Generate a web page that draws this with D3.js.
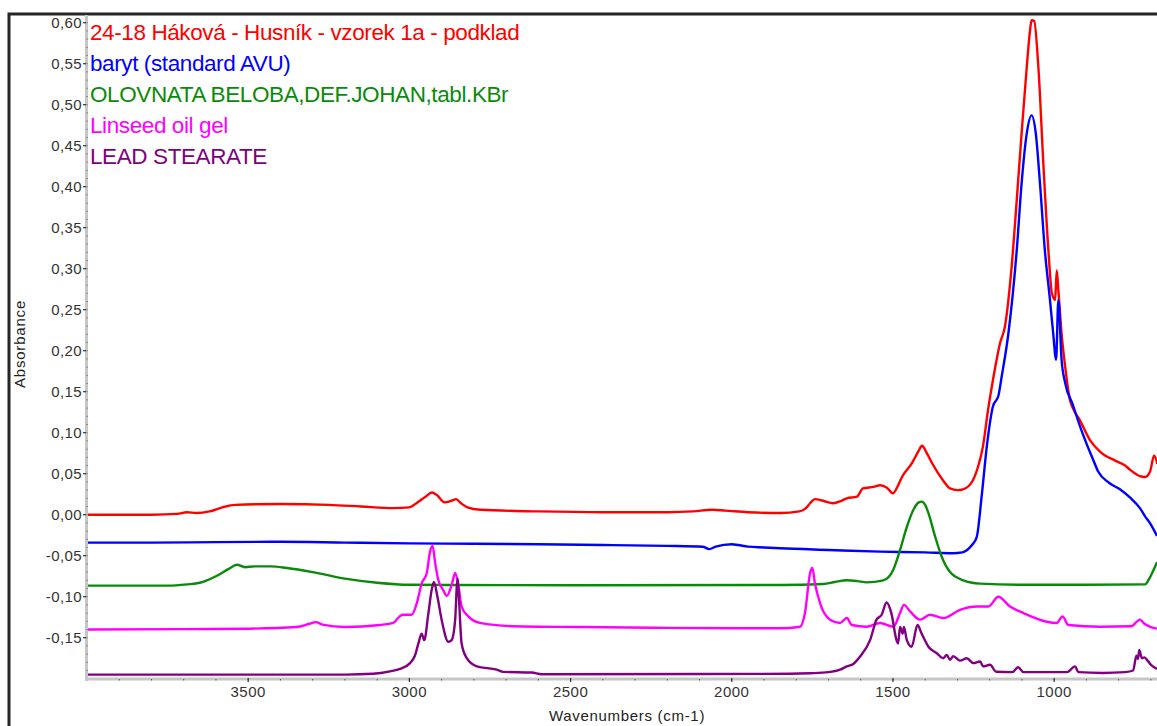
<!DOCTYPE html>
<html>
<head>
<meta charset="utf-8">
<script src="https://cdn.jsdelivr.net/npm/d3@7"></script>
<style>
  html, body { margin: 0; padding: 0; background: #fff; overflow: hidden; }
  svg { display: block; font-family: "Liberation Sans", Arial, sans-serif; }
</style>
</head>
<body>
<div id="chart"></div>
<script>
/* legend labels, in drawing order */
var seriesNames = [
  '24-18 Háková - Husník - vzorek 1a - podklad',
  'baryt (standard AVU)',
  'OLOVNATA BELOBA,DEF.JOHAN,tabl.KBr',
  'Linseed oil gel',
  'LEAD STEARATE'
];

/* spectra: [wavenumber cm-1, absorbance] */
var sampleSpectrum = [
  [4000,0.000],[3800,0.000],[3720,0.001],[3690,0.003],[3660,0.002],[3620,0.004],[3580,0.009],
  [3540,0.012],[3400,0.013],[3250,0.012],[3150,0.010],[3050,0.008],[3000,0.009],[2975,0.015],
  [2950,0.022],[2930,0.027],[2915,0.024],[2890,0.015],[2870,0.017],[2855,0.019],[2840,0.014],
  [2820,0.009],[2780,0.006],[2600,0.004],[2400,0.003],[2200,0.003],[2120,0.004],[2060,0.006],
  [2020,0.005],[1950,0.003],[1850,0.002],[1790,0.004],[1770,0.008],[1757,0.014],[1742,0.019],
  [1717,0.017],[1686,0.014],[1660,0.017],[1643,0.020],[1612,0.022],[1593,0.032],[1560,0.034],
  [1540,0.036],[1519,0.033],[1500,0.026],[1485,0.035],[1472,0.046],[1441,0.063],[1420,0.078],
  [1410,0.084],[1395,0.075],[1379,0.063],[1345,0.042],[1323,0.032],[1300,0.030],[1283,0.031],
  [1265,0.035],[1252,0.042],[1235,0.060],[1221,0.083],[1205,0.128],[1190,0.164],[1178,0.190],
  [1168,0.209],[1153,0.229],[1132,0.302],[1116,0.384],[1101,0.465],[1085,0.546],[1075,0.590],
  [1070,0.603],[1062,0.602],[1049,0.546],[1033,0.424],[1018,0.323],[1007,0.270],[997,0.262],
  [992,0.298],[987,0.274],[977,0.221],[966,0.181],[951,0.140],[942,0.130],[920,0.115],
  [889,0.091],[858,0.077],[811,0.066],[780,0.060],[765,0.055],[734,0.047],[718,0.046],
  [703,0.052],[690,0.072],[680,0.062]
];

var barytSpectrum = [
  [4000,-0.034],[3800,-0.034],[3600,-0.0335],[3400,-0.033],[3200,-0.034],[3000,-0.035],
  [2800,-0.0355],[2600,-0.036],[2400,-0.037],[2200,-0.038],[2090,-0.039],[2070,-0.042],
  [2050,-0.039],[2000,-0.036],[1980,-0.037],[1950,-0.039],[1900,-0.040],[1850,-0.041],
  [1700,-0.043],[1540,-0.045],[1400,-0.046],[1314,-0.047],[1285,-0.046],[1270,-0.043],
  [1255,-0.037],[1240,-0.027],[1225,0.022],[1209,0.083],[1190,0.132],[1173,0.145],
  [1163,0.168],[1142,0.221],[1116,0.323],[1101,0.404],[1085,0.465],[1070,0.487],[1057,0.465],
  [1044,0.404],[1029,0.323],[1013,0.262],[1003,0.221],[994,0.189],[987,0.262],[977,0.189],
  [966,0.161],[942,0.134],[920,0.108],[900,0.087],[880,0.068],[864,0.053],[830,0.039],
  [796,0.031],[765,0.021],[734,0.008],[718,-0.002],[700,-0.012],[681,-0.026]
];

var leadWhiteSpectrum = [
  [4000,-0.0865],[3750,-0.0865],[3690,-0.085],[3650,-0.083],[3600,-0.075],[3560,-0.066],
  [3535,-0.061],[3510,-0.064],[3480,-0.063],[3430,-0.063],[3380,-0.065],[3300,-0.070],
  [3200,-0.078],[3100,-0.083],[3000,-0.0855],[2500,-0.086],[1850,-0.0857],[1716,-0.0845],
  [1680,-0.082],[1643,-0.080],[1610,-0.081],[1582,-0.0825],[1530,-0.080],[1499,-0.067],
  [1478,-0.043],[1457,-0.015],[1437,0.0057],[1420,0.015],[1411,0.016],[1400,0.012],
  [1390,0.002],[1369,-0.027],[1349,-0.051],[1323,-0.070],[1282,-0.080],[1230,-0.084],
  [1100,-0.0855],[900,-0.0855],[718,-0.085],[705,-0.078],[690,-0.066],[681,-0.058]
];

var linseedSpectrum = [
  [4000,-0.140],[3700,-0.1395],[3500,-0.139],[3350,-0.137],[3310,-0.133],[3290,-0.131],
  [3270,-0.134],[3200,-0.137],[3091,-0.1345],[3050,-0.132],[3030,-0.124],[3020,-0.122],
  [2993,-0.122],[2977,-0.108],[2962,-0.084],[2946,-0.071],[2936,-0.045],[2928,-0.038],
  [2920,-0.059],[2910,-0.080],[2895,-0.092],[2884,-0.099],[2869,-0.086],[2858,-0.071],
  [2848,-0.086],[2838,-0.112],[2817,-0.124],[2781,-0.132],[2678,-0.136],[2471,-0.137],
  [2200,-0.138],[1850,-0.1385],[1788,-0.1366],[1773,-0.120],[1757,-0.071],[1750,-0.065],
  [1742,-0.084],[1726,-0.108],[1695,-0.128],[1664,-0.132],[1643,-0.126],[1628,-0.1345],
  [1582,-0.1366],[1540,-0.132],[1499,-0.1366],[1478,-0.120],[1466,-0.110],[1447,-0.118],
  [1416,-0.128],[1385,-0.122],[1344,-0.126],[1292,-0.116],[1240,-0.112],[1204,-0.112],
  [1173,-0.100],[1137,-0.112],[1095,-0.120],[1023,-0.1305],[992,-0.132],[974,-0.124],
  [956,-0.1345],[858,-0.1366],[760,-0.136],[745,-0.131],[734,-0.128],[720,-0.133],
  [700,-0.137],[681,-0.139]
];

var leadStearateSpectrum = [
  [4000,-0.195],[3200,-0.195],[3113,-0.194],[3060,-0.191],[3029,-0.188],[2998,-0.181],
  [2983,-0.172],[2972,-0.157],[2962,-0.145],[2954,-0.153],[2941,-0.120],[2931,-0.092],
  [2924,-0.082],[2913,-0.100],[2900,-0.128],[2879,-0.155],[2869,-0.153],[2858,-0.128],
  [2853,-0.088],[2850,-0.078],[2846,-0.104],[2838,-0.157],[2822,-0.175],[2791,-0.185],
  [2729,-0.189],[2709,-0.1917],[2620,-0.1925],[2590,-0.1945],[1820,-0.194],[1757,-0.1934],
  [1700,-0.192],[1664,-0.189],[1643,-0.185],[1623,-0.182],[1602,-0.173],[1571,-0.153],
  [1551,-0.128],[1535,-0.122],[1520,-0.107],[1505,-0.120],[1489,-0.153],[1484,-0.157],
  [1478,-0.137],[1470,-0.145],[1466,-0.137],[1457,-0.153],[1442,-0.161],[1424,-0.1345],
  [1411,-0.145],[1390,-0.161],[1364,-0.169],[1344,-0.175],[1333,-0.171],[1323,-0.177],
  [1313,-0.1725],[1292,-0.178],[1271,-0.175],[1251,-0.181],[1230,-0.179],[1220,-0.185],
  [1199,-0.183],[1180,-0.1915],[1130,-0.192],[1112,-0.186],[1095,-0.192],[960,-0.192],
  [935,-0.185],[925,-0.192],[850,-0.193],[780,-0.192],[755,-0.190],[745,-0.172],
  [740,-0.176],[736,-0.165],[728,-0.175],[720,-0.174],[710,-0.178],[700,-0.183],[681,-0.188]
];

/* axis ticks */
var xMajorTicks = [3500, 3000, 2500, 2000, 1500, 1000];
var yMajorTicks = [0.60, 0.55, 0.50, 0.45, 0.40, 0.35, 0.30, 0.25, 0.20, 0.15, 0.10, 0.05,
                   0.00, -0.05, -0.10, -0.15];

var seriesData = [sampleSpectrum, barytSpectrum, leadWhiteSpectrum, linseedSpectrum, leadStearateSpectrum];
var seriesColors = ['#ff0000', '#0000ff', '#0a8a0a', '#ff00ff', '#800080'];

var W = 1157, H = 726;
var plot = { left: 87, right: 1167, top: 15, bottom: 678 };

var svg = d3.select('#chart').append('svg')
  .attr('width', W).attr('height', H);

var x = d3.scaleLinear().domain([4000, 650]).range([plot.left, plot.right]);
var y = d3.scaleLinear().domain([-0.2, 0.6]).range([678.7, 22.7]);

var fmt = d3.formatLocale({ decimal: ',', thousands: ' ', grouping: [3], currency: ['', ''], minus: '-' }).format('.2f');

/* outer frame */
svg.append('rect')
  .attr('x', 9).attr('y', 14)
  .attr('width', W + 20).attr('height', H + 20)
  .attr('fill', 'none')
  .attr('stroke', '#262626')
  .attr('stroke-width', 3);

svg.append('clipPath').attr('id', 'plot-clip')
  .append('rect')
  .attr('x', plot.left + 1).attr('y', plot.top)
  .attr('width', plot.right - plot.left).attr('height', plot.bottom - plot.top);

/* spectra */
var line = d3.line()
  .x(function (d) { return x(d[0]); })
  .y(function (d) { return y(d[1]); })
  .curve(d3.curveMonotoneX);

svg.append('g')
  .attr('clip-path', 'url(#plot-clip)')
  .selectAll('path')
  .data(seriesData)
  .join('path')
  .attr('d', line)
  .attr('fill', 'none')
  .attr('stroke', function (d, i) { return seriesColors[i]; })
  .attr('stroke-width', 2.4)
  .attr('stroke-linejoin', 'round');

/* y axis: grey bar, ticks, labels */
svg.append('rect')
  .attr('x', 85).attr('y', plot.top)
  .attr('width', 3).attr('height', 681 - plot.top)
  .attr('fill', '#c6c6c6');

svg.append('g').selectAll('rect')
  .data(d3.range(-19, 61).map(function (v) { return v / 100; }))
  .join('rect')
  .attr('x', 86.5).attr('y', function (d) { return y(d) - 0.5; })
  .attr('width', 1).attr('height', 1)
  .attr('fill', '#555');

var yAxis = svg.append('g');
yAxis.selectAll('line')
  .data(yMajorTicks)
  .join('line')
  .attr('x1', 83).attr('x2', 86)
  .attr('y1', function (d) { return y(d); })
  .attr('y2', function (d) { return y(d); })
  .attr('stroke', '#333').attr('stroke-width', 1.2);

yAxis.selectAll('text')
  .data(yMajorTicks)
  .join('text')
  .attr('x', 82)
  .attr('y', function (d) { return y(d); })
  .attr('dy', '0.35em')
  .attr('text-anchor', 'end')
  .attr('font-size', 15)
  .attr('letter-spacing', 0.4)
  .attr('fill', '#333')
  .text(function (d) { return fmt(d); });

svg.append('text')
  .attr('transform', 'translate(25,344) rotate(-90)')
  .attr('text-anchor', 'middle')
  .attr('font-size', 15)
  .attr('letter-spacing', 0.8)
  .attr('fill', '#222')
  .text('Absorbance');

/* x axis: grey bar, ticks, labels */
svg.append('rect')
  .attr('x', 85).attr('y', 677.5)
  .attr('width', W).attr('height', 3)
  .attr('fill', '#c6c6c6');

svg.append('g').selectAll('rect')
  .data(d3.range(3900, 600, -100))
  .join('rect')
  .attr('x', function (d) { return x(d) - 0.5; })
  .attr('y', 679)
  .attr('width', 1).attr('height', 1.5)
  .attr('fill', '#555');

var xAxis = svg.append('g');
xAxis.selectAll('line')
  .data(xMajorTicks)
  .join('line')
  .attr('x1', function (d) { return x(d); })
  .attr('x2', function (d) { return x(d); })
  .attr('y1', 678).attr('y2', 682)
  .attr('stroke', '#333').attr('stroke-width', 1.2);

xAxis.selectAll('text')
  .data(xMajorTicks)
  .join('text')
  .attr('x', function (d) { return x(d); })
  .attr('y', 697)
  .attr('text-anchor', 'middle')
  .attr('font-size', 15)
  .attr('letter-spacing', 0.5)
  .attr('fill', '#333')
  .text(function (d) { return d; });

svg.append('text')
  .attr('x', 627).attr('y', 721)
  .attr('text-anchor', 'middle')
  .attr('font-size', 15)
  .attr('letter-spacing', 0.7)
  .attr('fill', '#222')
  .text('Wavenumbers (cm-1)');

/* legend, top-left inside the plot */
svg.append('g').selectAll('text')
  .data(seriesNames)
  .join('text')
  .attr('x', 90)
  .attr('y', function (d, i) { return 39.5 + i * 31.2; })
  .attr('font-size', 22.5)
  .attr('letter-spacing', -0.4)
  .attr('fill', function (d, i) { return seriesColors[i]; })
  .text(function (d) { return d; });
</script>
</body>
</html>
